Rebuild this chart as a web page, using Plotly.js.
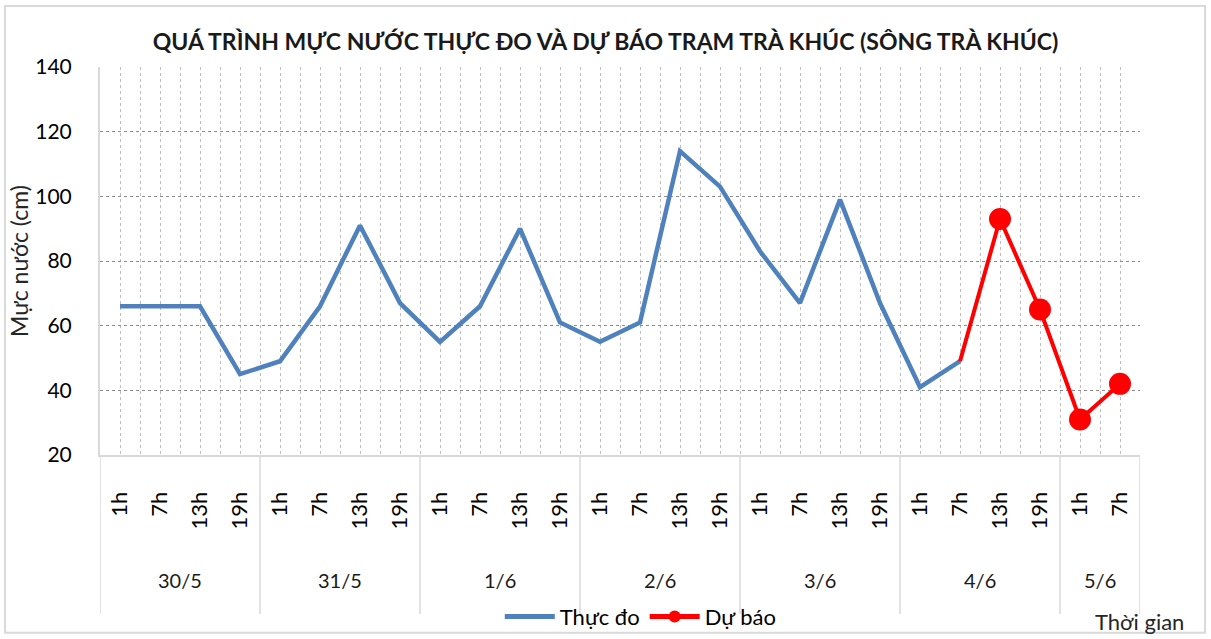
<!DOCTYPE html>
<html>
<head>
<meta charset="utf-8">
<script src="https://cdn.plot.ly/plotly-3.0.1.min.js"></script>
<style>
html,body{margin:0;padding:0;background:#fff;}
#chart{width:1211px;height:639px;}
</style>
</head>
<body>
<div id="chart"></div>
<script>
// ---- data ----
var dates = ["30/5","30/5","30/5","30/5","31/5","31/5","31/5","31/5","1/6","1/6","1/6","1/6","2/6","2/6","2/6","2/6","3/6","3/6","3/6","3/6","4/6","4/6","4/6","4/6","5/6","5/6"];
var hours = ["1h","7h","13h","19h","1h","7h","13h","19h","1h","7h","13h","19h","1h","7h","13h","19h","1h","7h","13h","19h","1h","7h","13h","19h","1h","7h"];
var thucDo = [66,66,66,45,49,66,91,67,55,66,90,61,55,61,114,103,83,67,99,67,41,49,null,null,null,null];
var duBao  = [null,null,null,null,null,null,null,null,null,null,null,null,null,null,null,null,null,null,null,null,null,49,93,65,31,42];
var yTicks = [20,40,60,80,100,120,140];

var FONT = "Lato, 'Liberation Sans', sans-serif";
var idx = hours.map(function(_, i){ return i; });

// date groups
var groups = [];
dates.forEach(function(d, i){
  var g = groups.length ? groups[groups.length-1] : null;
  if (!g || g.label !== d) { groups.push({label:d, first:i, last:i}); }
  else { g.last = i; }
});

var shapes = [];
var bounds = [groups[0].first - 0.5].concat(groups.map(function(g){ return g.last + 0.5; }));
bounds.forEach(function(b){
  shapes.push({type:'line', xref:'x', yref:'paper', x0:b, x1:b, y0:0, y1:-0.41,
    line:{color:'#d9d9d9', width:1.5}});
});
// outer chart border
shapes.push({type:'rect', xref:'paper', yref:'paper', x0:-0.0913, x1:1.0625, y0:-0.458, y1:1.157,
  line:{color:'#d9d9d9', width:2}, fillcolor:'rgba(0,0,0,0)'});

var annotations = groups.map(function(g){
  return {xref:'x', yref:'paper', x:(g.first+g.last)/2, y:-0.322, text:g.label, showarrow:false,
    xanchor:'center', yanchor:'middle', font:{family:FONT, size:20, color:'#1a1a1a'}};
});
annotations.push({xref:'paper', yref:'paper', x:1.044, y:-0.428, text:'Thời gian', showarrow:false,
  xanchor:'right', yanchor:'middle', font:{family:FONT, size:22, color:'#262626'}});

var traces = [
  {x: idx, y: thucDo, name:'Thực đo', type:'scatter', mode:'lines',
   line:{color:'#4f81bd', width:4.5}, connectgaps:false},
  {x: idx, y: duBao, name:'Dự báo', type:'scatter', mode:'lines+markers',
   line:{color:'#ff0000', width:4},
   marker:{color:'#ff0000', opacity:1, line:{width:0},
     size: duBao.map(function(v, i){ return (v === null || i === 21) ? 0 : 22; })}}
];

var layout = {
  width:1211, height:639,
  margin:{l:100, r:71, t:67, b:184, autoexpand:false},
  paper_bgcolor:'#fff', plot_bgcolor:'#fff',
  font:{family:FONT, color:'#000'},
  title:{text:'QUÁ TRÌNH MỰC NƯỚC THỰC ĐO VÀ DỰ BÁO TRẠM TRÀ KHÚC (SÔNG TRÀ KHÚC)',
    x:0.5, xref:'container', xanchor:'center', y:0.935, yref:'container', yanchor:'middle',
    font:{family:FONT, size:23, color:'#1a1a1a', weight:'bold'}},
  xaxis:{
    type:'linear', range:[-0.5, hours.length-0.5], autorange:false,
    tickmode:'array', tickvals:idx, ticktext:hours, tickangle:-90,
    tickfont:{family:FONT, size:22, color:'#000'},
    ticks:'', ticklabelstandoff:26,
    showgrid:true, gridcolor:'#bdbdbd', griddash:'dot', gridwidth:1,
    minor:{tickmode:'linear', tick0:-0.5, dtick:1, showgrid:true, gridcolor:'#bdbdbd', griddash:'dot', gridwidth:1},
    showline:true, linecolor:'#d9d9d9', linewidth:2, zeroline:false, fixedrange:true
  },
  yaxis:{
    range:[20,140], autorange:false, tickmode:'array', tickvals:yTicks,
    tickfont:{family:FONT, size:21, color:'#000'},
    ticks:'', ticklabelstandoff:22,
    showgrid:true, gridcolor:'#8c8c8c', griddash:'dot', gridwidth:1,
    showline:true, linecolor:'#d9d9d9', linewidth:2, zeroline:false,
    title:{text:'Mực nước (cm)', standoff:0, font:{family:FONT, size:23, color:'#262626'}}
  },
  showlegend:true,
  legend:{orientation:'h', x:0.52, xanchor:'center', y:-0.417, yanchor:'middle',
    font:{family:FONT, size:22, color:'#000'}, bgcolor:'rgba(0,0,0,0)', itemwidth:50, itemsizing:'constant'},
  shapes:shapes,
  annotations:annotations
};

Plotly.newPlot('chart', traces, layout, {displayModeBar:false, staticPlot:true});
</script>
</body>
</html>
